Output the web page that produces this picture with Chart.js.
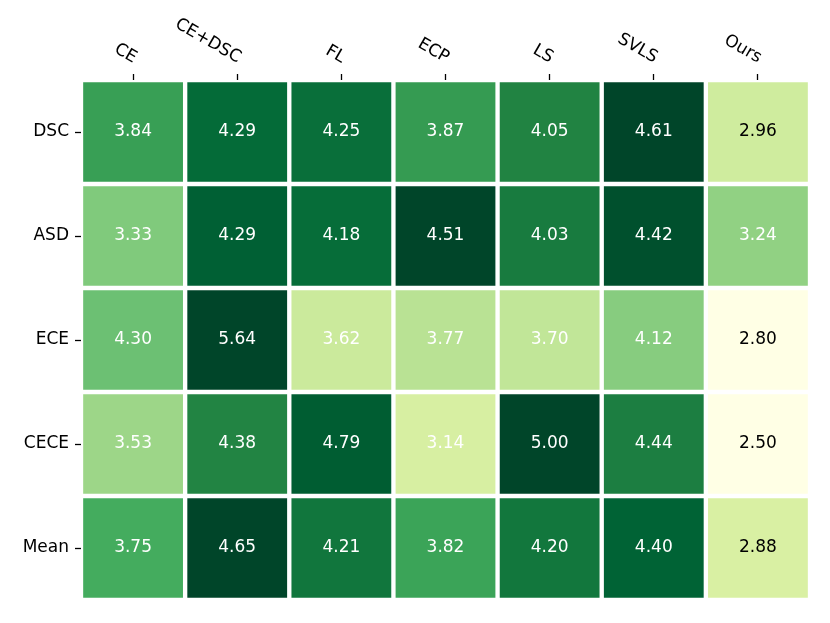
<!DOCTYPE html>
<html>
<head>
<meta charset="utf-8">
<script src="https://cdn.jsdelivr.net/npm/chart.js@4/dist/chart.umd.min.js"></script>
<style>
  html, body { margin: 0; padding: 0; background: #fff; }
  #wrap { width: 830px; height: 623px; }
</style>
</head>
<body>
<div id="wrap"><canvas id="myChart"></canvas></div>
<script>
// columns and rows
const methods = ['CE', 'CE+DSC', 'FL', 'ECP', 'LS', 'SVLS', 'Ours'];
const metrics = ['DSC', 'ASD', 'ECE', 'CECE', 'Mean'];

// cell values, one array per row
const dsc  = [3.84, 4.29, 4.25, 3.87, 4.05, 4.61, 2.96];
const asd  = [3.33, 4.29, 4.18, 4.51, 4.03, 4.42, 3.24];
const ece  = [4.30, 5.64, 3.62, 3.77, 3.70, 4.12, 2.80];
const cece = [3.53, 4.38, 4.79, 3.14, 5.00, 4.44, 2.50];
const mean = [3.75, 4.65, 4.21, 3.82, 4.20, 4.40, 2.88];
const scores = [dsc, asd, ece, cece, mean];

// colour scale range per row (YlGn)
const colourLow = [2.32, 2.24, 2.80, 2.50, 2.29];
const ylgn = ['#ffffe5', '#f7fcb9', '#d9f0a3', '#addd8e', '#78c679',
              '#41ab5d', '#238443', '#006837', '#004529'];

function hexToRgb(h) {
  return [parseInt(h.slice(1, 3), 16), parseInt(h.slice(3, 5), 16), parseInt(h.slice(5, 7), 16)];
}
function colourAt(t) {
  t = Math.max(0, Math.min(1, t)) * (ylgn.length - 1);
  const i = Math.min(Math.floor(t), ylgn.length - 2);
  const f = t - i;
  const a = hexToRgb(ylgn[i]), b = hexToRgb(ylgn[i + 1]);
  const c = a.map((v, k) => Math.round(v + (b[k] - v) * f));
  return 'rgb(' + c.join(',') + ')';
}

const datasets = scores.map((row, r) => {
  const lo = colourLow[r], hi = Math.max(...row);
  return {
    label: metrics[r],
    data: row.map(() => [r, r + 1]),
    backgroundColor: row.map(v => colourAt((v - lo) / (hi - lo))),
    borderColor: '#ffffff',
    borderWidth: 2.5,
    borderSkipped: false,
    grouped: false,
    categoryPercentage: 1,
    barPercentage: 1
  };
});

const cellText = {
  id: 'cellText',
  afterDatasetsDraw(chart) {
    const ctx = chart.ctx;
    ctx.save();
    ctx.font = '17px "DejaVu Sans"';
    ctx.textAlign = 'center';
    ctx.textBaseline = 'middle';
    scores.forEach((row, r) => {
      chart.getDatasetMeta(r).data.forEach((bar, c) => {
        const p = bar.getCenterPoint();
        ctx.fillStyle = row[c] < 3 ? '#000000' : '#ffffff';
        ctx.fillText(row[c].toFixed(2), p.x, p.y);
      });
    });
    // rotated column labels on top
    const xs = chart.scales.x;
    ctx.fillStyle = '#000000';
    ctx.textAlign = 'right';
    ctx.textBaseline = 'alphabetic';
    methods.forEach((m, i) => {
      ctx.save();
      ctx.translate(xs.getPixelForTick(i), chart.chartArea.top - 17);
      ctx.rotate(Math.PI / 6);
      ctx.fillText(m, 0, 0);
      ctx.restore();
    });
    ctx.restore();
  }
};

Chart.defaults.font.family = '"DejaVu Sans"';
Chart.defaults.font.size = 17;
Chart.defaults.color = '#000';

const ctx = document.getElementById('myChart');
new Chart(ctx, {
  type: 'bar',
  data: { labels: methods, datasets: datasets },
  options: {
    responsive: true,
    maintainAspectRatio: false,
    animation: false,
    events: [],
    layout: { padding: { left: 0, right: 20, top: 0, bottom: 23 } },
    plugins: { legend: { display: false }, tooltip: { enabled: false } },
    scales: {
      x: {
        position: 'top',
        offset: true,
        grid: { offset: false, drawOnChartArea: false, drawTicks: true, tickLength: 6, tickColor: '#000', tickWidth: 1.3 },
        border: { display: false },
        ticks: { autoSkip: false, maxRotation: 0, color: 'rgba(0,0,0,0)' },
        afterFit(scale) { scale.height = 80; }
      },
      y: {
        type: 'linear',
        min: 0,
        max: 5,
        reverse: true,
        grid: { drawOnChartArea: false, drawTicks: true, tickLength: 6, tickColor: '#000', tickWidth: 1.3 },
        border: { display: false },
        afterBuildTicks(scale) {
          scale.ticks = metrics.map((_, i) => ({ value: i + 0.5 }));
        },
        ticks: {
          padding: 6,
          callback: (value, index) => metrics[index]
        },
        afterFit(scale) { scale.width = 81; }
      }
    }
  },
  plugins: [cellText]
});
</script>
</body>
</html>
